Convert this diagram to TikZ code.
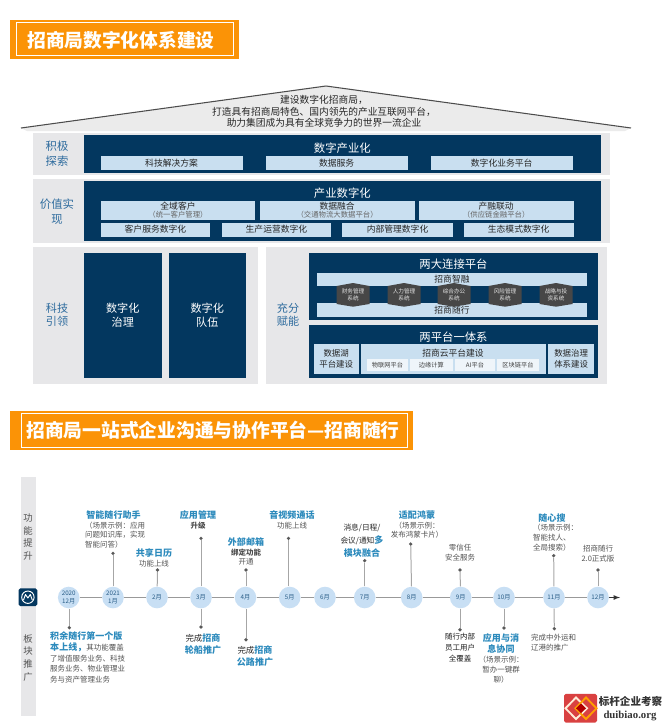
\documentclass[tikz,border=0pt]{standalone}
\usepackage{fontspec}
\setmainfont{Noto Sans CJK SC}
\newfontfamily\wmfont{Liberation Serif}
\usetikzlibrary{positioning}
\usetikzlibrary{arrows}
\definecolor{navyfill}{HTML}{03375F}
\definecolor{paleblue}{HTML}{C9DFF0}
\definecolor{panelgray}{HTML}{E7E7E9}
\definecolor{labelblue}{HTML}{2F6C9E}
\definecolor{hlblue}{HTML}{2C8ABC}
\definecolor{headorange}{HTML}{FB9306}
\definecolor{circfill}{HTML}{C8DFF4}
\newcommand{\hlb}[1]{{\fontsize{7.7}{8}\selectfont\bfseries\color{hlblue}#1}}
\newcommand{\hlk}[1]{{\fontsize{6.4}{8}\selectfont\bfseries\color{black!70}#1}}
\newcommand{\sysblock}[4]{% centre x, name, two lines
\fill[black!72] (#1-16.5,286) -- (#1,283) -- (#1+16.5,286) -- (#1+16.5,304) -- (#1,306.7) -- (#1-16.5,304) -- cycle;
\node[blocktext] (#2) at (#1,295) {#3\\#4};}
\tikzset{x=0.03cm, y=-0.03cm,
panel/.style={fill=panelgray, inner sep=0},
navy/.style={fill=navyfill, inner sep=0},
subbox/.style={fill=paleblue, inner sep=0, align=center, text=black!85, font=\fontsize{7.5}{8}\selectfont},
sidelabel/.style={inner sep=0, align=center, text=labelblue, font=\fontsize{9.5}{11.2}\selectfont},
navytitle/.style={inner sep=0, align=center, text=white, font=\fontsize{9.7}{11.2}\selectfont},
blocktext/.style={inner sep=0, align=center, text=white!90!black, font=\fontsize{4.8}{6.4}\selectfont},
chip/.style={fill=white!70!paleblue, inner sep=0, text=black!75, font=\fontsize{5.3}{6}\selectfont},
headbox/.style={fill=headorange, inner sep=0},
headframe/.style={draw=white, line width=0.5pt, inner sep=0},
headtext/.style={inner sep=0, text=white, font=\fontsize{16}{18}\selectfont\bfseries},
month/.style={circle, fill=circfill, minimum size=21.6*0.03cm, inner sep=0, align=center, text=labelblue!85!black, font=\fontsize{5.3}{6.6}\selectfont},
enddot/.style={circle, fill=black!65, minimum size=3.6*0.03cm, inner sep=0},
stem/.style={draw=black!35, line width=0.85pt},
axis/.style={draw=black!40, line width=0.85pt},
event/.style={inner sep=0, align=center, text=black!68, font=\fontsize{6.4}{8.3}\selectfont},
eventl/.style={event, align=left, anchor=west},
barlabel/.style={inner sep=0, align=center, text=black!68, font=\fontsize{8}{11}\selectfont}}
\begin{document}
\begin{tikzpicture}
\useasboundingbox (0,0) rectangle (663,725);
% first heading
\node[headbox, minimum width=229*0.03cm, minimum height=39*0.03cm] (headA) at (124.5,39.5) {};
\node[headframe, minimum width=217*0.03cm, minimum height=32.5*0.03cm] (frameA) at (124.5,38.75) {};
\node[headtext] (titleA) at (121,40) {招商局数字化体系建设};
% roof
\fill[black!8] (21,128) -- (326,86) -- (631,128) -- (625,131) -- (27,131) -- cycle;
\draw[black!70, line width=0.9pt] (21,128) -- (326,86) -- (631,128);
\node[inner sep=0, align=center, text=black!85, font=\fontsize{8.3}{9.8}\selectfont] (roofnote) at (324,111.5) {建设数字化招商局，\\打造具有招商局特色、国内领先的产业互联网平台，\\助力集团成为具有全球竞争力的世界一流企业};
% row one
\node[panel, minimum width=576.7*0.03cm, minimum height=42*0.03cm] (rowA) at (321.35,154) {};
\node[navy, minimum width=517.2*0.03cm, minimum height=38*0.03cm] (navyA) at (342.2,154) {};
\node[sidelabel, font=\fontsize{9.7}{13}\selectfont] (sideA) at (57,153.5) {积极\\探索};
\node[navytitle] (titleIndustry) at (342.4,148) {数字产业化};
\node[subbox, minimum width=142.2*0.03cm, minimum height=13.5*0.03cm] (solution) at (171.6,162.75) {科技解决方案};
\node[subbox, minimum width=142.1*0.03cm, minimum height=13.5*0.03cm] (service) at (336.65,162.75) {数据服务};
\node[subbox, minimum width=142.2*0.03cm, minimum height=13.5*0.03cm] (bizplat) at (501.7,162.75) {数字化业务平台};
% row two
\node[panel, minimum width=576.7*0.03cm, minimum height=64*0.03cm] (rowB) at (321.35,211) {};
\node[navy, minimum width=517.2*0.03cm, minimum height=60*0.03cm] (navyB) at (342.2,211) {};
\node[sidelabel, font=\fontsize{9.7}{13}\selectfont] (sideB) at (57,211.5) {价值实\\现};
\node[navytitle] (titleDigit) at (342.4,193) {产业数字化};
\node[subbox, minimum width=154.9*0.03cm, minimum height=19*0.03cm] (customer) at (178,210) {全域客户\\[-1.5pt]{\fontsize{6.3}{7}\selectfont\color{black!60}（统一客户管理）}};
\node[subbox, minimum width=154.8*0.03cm, minimum height=19*0.03cm] (fusion) at (337.1,210) {数据融合\\[-1.5pt]{\fontsize{6.3}{7}\selectfont\color{black!60}（交通物流大数据平台）}};
\node[subbox, minimum width=154.8*0.03cm, minimum height=19*0.03cm] (finance) at (496.2,210) {产融联动\\[-1.5pt]{\fontsize{6.3}{7}\selectfont\color{black!60}（供应链金融平台）}};
\node[subbox, minimum width=109.9*0.03cm, minimum height=14*0.03cm] (custdig) at (155.45,229.5) {客户服务数字化};
\node[subbox, minimum width=109.9*0.03cm, minimum height=14*0.03cm] (opsdig) at (276.45,229.5) {生产运营数字化};
\node[subbox, minimum width=110.3*0.03cm, minimum height=14*0.03cm] (mgmtdig) at (397.55,229.5) {内部管理数字化};
\node[subbox, minimum width=109.9*0.03cm, minimum height=14*0.03cm] (ecodig) at (518.65,229.5) {生态模式数字化};
% row three left
\node[panel, minimum width=225*0.03cm, minimum height=137*0.03cm] (rowC) at (145.5,315.5) {};
\node[sidelabel] (sideC) at (57,314.5) {科技\\引领};
\node[navy, navytitle, minimum width=77.5*0.03cm, minimum height=125.5*0.03cm, font=\fontsize{9.5}{11.2}\selectfont] (govern) at (122.75,315.25) {数字化\\治理};
\node[navy, navytitle, minimum width=76.5*0.03cm, minimum height=125.5*0.03cm, font=\fontsize{9.5}{11.2}\selectfont] (team) at (207.25,315.25) {数字化\\队伍};
% row three right
\node[panel, minimum width=341*0.03cm, minimum height=137*0.03cm] (rowD) at (436.5,315.5) {};
\node[sidelabel] (sideD) at (288,314.5) {充分\\赋能};
\node[navy, minimum width=288.7*0.03cm, minimum height=67.3*0.03cm] (navyC) at (453.65,286.35) {};
\node[navytitle] (titleLink) at (453.5,264.3) {两大连接平台};
\node[subbox, minimum width=270*0.03cm, minimum height=13*0.03cm] (zhirong) at (452,279.5) {招商智融};
\node[subbox, minimum width=270*0.03cm, minimum height=13.7*0.03cm] (suixing) at (452,309.85) {招商随行};
\sysblock{353}{sysfin}{财务管理}{系统}
\sysblock{404}{syshr}{人力管理}{系统}
\sysblock{454}{sysoffice}{综合办公}{系统}
\sysblock{505}{sysrisk}{风险管理}{系统}
\sysblock{556}{sysinvest}{战略与投}{资系统}
\node[navy, minimum width=288.7*0.03cm, minimum height=53.3*0.03cm] (navyD) at (453.65,351.35) {};
\node[navytitle] (titleTwo) at (453.5,337) {两平台一体系};
\node[subbox, minimum width=45*0.03cm, minimum height=29.7*0.03cm, font=\fontsize{7.2}{9.6}\selectfont] (lake) at (336.2,359.15) {数据湖\\平台建设};
\node[subbox, minimum width=185.3*0.03cm, minimum height=29.7*0.03cm] (cloud) at (453.35,359.15) {};
\node[subbox, minimum width=45.7*0.03cm, minimum height=29.7*0.03cm, font=\fontsize{7.2}{9.6}\selectfont] (dgov) at (571.15,359.15) {数据治理\\体系建设};
\node[inner sep=0, text=black!85, font=\fontsize{7.5}{8}\selectfont] (cloudtitle) at (453,352.7) {招商云平台建设};
\node[chip, minimum width=41*0.03cm, minimum height=11.4*0.03cm] (iot) at (387.5,365) {物联网平台};
\node[chip, minimum width=42.7*0.03cm, minimum height=11.4*0.03cm] (edge) at (431.35,365) {边缘计算};
\node[chip, minimum width=40*0.03cm, minimum height=11.4*0.03cm] (ai) at (475,365) {AI平台};
\node[chip, minimum width=42*0.03cm, minimum height=11.4*0.03cm] (chain) at (518,365) {区块链平台};
% second heading
\node[headbox, minimum width=403*0.03cm, minimum height=39*0.03cm] (headB) at (211.5,430.5) {};
\node[headframe, minimum width=386*0.03cm, minimum height=34*0.03cm] (frameB) at (214.5,430) {};
\node[headtext] (titleB) at (213,430) {招商局一站式企业沟通与协作平台—招商随行};
% side bars
\node[panel, minimum width=15.3*0.03cm, minimum height=112*0.03cm] (barUp) at (28.4,533) {};
\node[panel, minimum width=15.3*0.03cm, minimum height=110*0.03cm] (barDown) at (28.4,660.5) {};
\node[barlabel, font=\fontsize{8}{10.8}\selectfont] (upLabel) at (28,537) {功\\能\\提\\升};
\node[barlabel, font=\fontsize{8}{10.8}\selectfont] (downLabel) at (28,657.5) {板\\块\\推\\广};
\node[fill=navyfill, rounded corners=1.5pt, minimum width=18.8*0.03cm, minimum height=17.7*0.03cm, inner sep=0] (logo) at (27.9,597.2) {};
\draw[white, line width=0.8pt] (logo.center) circle (6.2);
\draw[white, line width=0.8pt, line join=round] (23.5,600) -- (25.5,594.5) -- (27.9,598) -- (30.3,594.5) -- (32.3,600);
% months
\node[month] (m00) at (68.7,597.5) {2020\\12月};
\node[month] (m01) at (113,597.5) {2021\\1月};
\node[month] (m02) at (157,597.5) {2月};
\node[month] (m03) at (201,597.5) {3月};
\node[month] (m04) at (245.5,597.5) {4月};
\node[month] (m05) at (289.7,597.5) {5月};
\node[month] (m06) at (325,597.5) {6月};
\node[month] (m07) at (364.7,597.5) {7月};
\node[month] (m08) at (411.7,597.5) {8月};
\node[month] (m09) at (460.7,597.5) {9月};
\node[month] (m10) at (504,597.5) {10月};
\node[month] (m11) at (554,597.5) {11月};
\node[month] (m12) at (598,597.5) {12月};
\coordinate (axisend) at (620,597.5);
\draw[axis] (m00) -- (m01);
\draw[axis] (m01) -- (m02);
\draw[axis] (m02) -- (m03);
\draw[axis] (m03) -- (m04);
\draw[axis] (m04) -- (m05);
\draw[axis] (m05) -- (m06);
\draw[axis] (m06) -- (m07);
\draw[axis] (m07) -- (m08);
\draw[axis] (m08) -- (m09);
\draw[axis] (m09) -- (m10);
\draw[axis] (m10) -- (m11);
\draw[axis] (m11) -- (m12);
\draw[axis, -latex, black!80] (m12) -- (axisend);
% upper stems
\node[enddot] (u01) at (113,553.3) {};
\node[enddot] (u02) at (157.5,570) {};
\node[enddot] (u03) at (201,538.3) {};
\node[enddot] (u04) at (246,570) {};
\node[enddot] (u05) at (288.5,538.3) {};
\node[enddot] (u07) at (364.7,560.7) {};
\node[enddot] (u08) at (410.7,544) {};
\node[enddot] (u09) at (460,570) {};
\node[enddot] (u11) at (553.7,555.7) {};
\node[enddot] (u12) at (598,570) {};
\draw[stem] (m01) -- (u01);
\draw[stem] (m02) -- (u02);
\draw[stem] (m03) -- (u03);
\draw[stem] (m04.north -| u04) -- (u04);
\draw[stem] (m05.north -| u05) -- (u05);
\draw[stem] (m07) -- (u07);
\draw[stem] (m08) -- (u08);
\draw[stem] (m09) -- (u09);
\draw[stem] (m11) -- (u11);
\draw[stem] (m12) -- (u12);
% lower stems
\node[enddot] (d00) at (69.3,627.7) {};
\node[enddot] (d03) at (201,627) {};
\node[enddot] (d04) at (246,639.7) {};
\node[enddot] (d09) at (460,629.7) {};
\node[enddot] (d10) at (504,628) {};
\node[enddot] (d11) at (554.3,628.7) {};
\draw[stem] (m00.south -| d00) -- (d00);
\draw[stem] (m03) -- (d03);
\draw[stem] (m04.south -| d04) -- (d04);
\draw[stem] (m09.south -| d09) -- (d09);
\draw[stem] (m10) -- (d10);
\draw[stem] (m11) -- (d11);
% upper events
\node[event] (e01head) at (113.5,515) {\hlb{智能随行助手}};
\node[eventl] (e01) at (85,535) {（场景示例：应用\\问题知识库，实现\\智能问答）};
\node[event] (e02) at (154,558) {\hlb{共享日历}\\功能上线};
\node[event] (e03) at (198,520) {\hlb{应用管理}\\\hlk{升级}};
\node[event] (e04) at (246,551.5) {\hlb{外部邮箱}\\\hlk{绑定功能}\\开通};
\node[event] (e05) at (292,520) {\hlb{音视频通话}\\功能上线};
\node[event, text=black!85, font=\fontsize{6.6}{11}\selectfont] (e07) at (362,541) {消息/日程/\\会议/通知\hlb{多}\\\hlb{模块融合}};
\node[event] (e08) at (417,524.5) {\hlb{适配鸿蒙}\\（场景示例：\\发布鸿蒙卡片）};
\node[event] (e09) at (460,553) {零信任\\安全服务};
\node[event] (e11head) at (552,517.7) {\hlb{随心搜}};
\node[eventl] (e11) at (533,537.6) {（场景示例：\\智能找人、\\全局搜索）};
\node[event] (e12) at (598,553.5) {招商随行\\2.0正式版};
% lower events
\node[eventl, font=\fontsize{6.4}{8.9}\selectfont] (e00) at (50,657) {\hlb{积余随行第一个版}\\[1pt]\hlb{本上线，}其功能覆盖\\了增值服务业务、科技\\服务业务、物业管理业\\务与资产管理业务};
\node[event, text=black!85, font=\fontsize{7.2}{9.8}\selectfont] (e03d) at (203,644) {完成\hlb{招商}\\\hlb{轮船推广}};
\node[event, text=black!85, font=\fontsize{7.2}{10.6}\selectfont] (e04d) at (255,656.3) {完成\hlb{招商}\\\hlb{公路推广}};
\node[event, text=black!90, font=\fontsize{6.4}{9.5}\selectfont] (e09d) at (460,647.5) {随行内部\\员工用户\\全覆盖};
\node[event] (e10head) at (501,643.8) {\hlb{应用与消}\\[1pt]\hlb{息协同}};
\node[event] (e10) at (501,669.5) {（场景示例：\\暂办一键群\\聊）};
\node[eventl] (e11d) at (531,642.5) {完成中外运和\\辽港的推广};
% watermark
\node[fill=red!60!pink!85!black, rounded corners=1.5pt, minimum width=33*0.03cm, minimum height=28.7*0.03cm, inner sep=0] (wmicon) at (580.5,708.3) {};
\draw[white!85!orange, line width=1.6pt, line join=miter] (576,697.5) -- (587,708.3) -- (576,719) -- (565.5,708.3) -- cycle;
\draw[orange!75!yellow, line width=1.6pt, line join=miter] (586,697.5) -- (596.5,708.3) -- (586,719) -- (575.5,708.3) -- cycle;
\fill[red!70!black] (581,703.5) -- (586,708.3) -- (581,713) -- (576,708.3) -- cycle;
\node[inner sep=0, text=black!80, font=\fontsize{9}{10}\selectfont\bfseries] (wmtitle) at (630.5,701.7) {标杆企业考察};
\node[inner sep=0, text=black!80, font=\wmfont\fontsize{9.2}{10}\selectfont\bfseries] (wmurl) at (630,715.7) {duibiao.org};
\end{tikzpicture}
\end{document}
